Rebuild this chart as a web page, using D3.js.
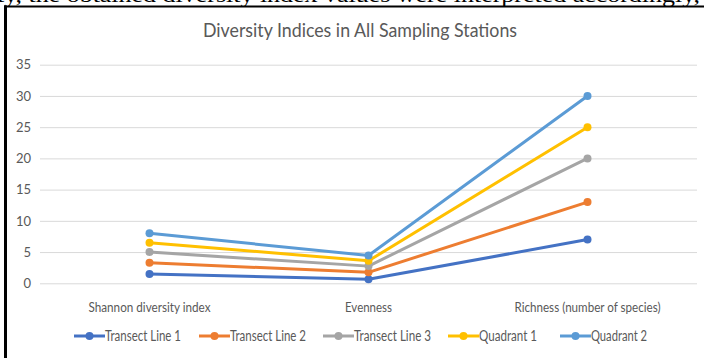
<!DOCTYPE html>
<html>
<head>
<meta charset="utf-8">
<script src="https://cdn.jsdelivr.net/npm/d3@7"></script>
<style>
  html, body { margin: 0; padding: 0; background: #fff; }
  svg { display: block; }
  .lbl { font-family: Lato, "Open Sans", sans-serif; fill: #595959; }
</style>
</head>
<body>
<svg id="chart" width="704" height="358"></svg>
<script>
// Diversity indices per sampling station
const categories = ["Shannon diversity index", "Evenness", "Richness (number of species)"];
const seriesNames = ["Transect Line 1", "Transect Line 2", "Transect Line 3", "Quadrant 1", "Quadrant 2"];
const transectLine1 = [1.5, 0.65, 7];
const transectLine2 = [3.3, 1.75, 13];
const transectLine3 = [5.0, 2.75, 20];
const quadrant1 = [6.5, 3.6, 25];
const quadrant2 = [8.0, 4.45, 30];
const yTicks = [0, 5, 10, 15, 20, 25, 30, 35];
const colors = ["#4472C4", "#ED7D31", "#A5A5A5", "#FFC000", "#5B9BD5"];

const seriesValues = [transectLine1, transectLine2, transectLine3, quadrant1, quadrant2];
const series = seriesNames.map((name, i) => ({
  name, color: colors[i],
  points: categories.map((c, j) => ({ cat: c, v: seriesValues[i][j] }))
}));

const svg = d3.select("#chart");

// Running paragraph text above the figure frame (cut at the top edge)
svg.append("text")
  .attr("x", -3).attr("y", 1.5)
  .attr("textLength", 703).attr("lengthAdjust", "spacingAndGlyphs")
  .style("font-family", "'Liberation Serif', 'DejaVu Serif', serif")
  .style("font-size", "22px").style("fill", "#000")
  .text("ty, the obtained diversity index values were interpreted accordingly,");

// Figure frame
svg.append("line").attr("x1", 4).attr("x2", 704).attr("y1", 6.5).attr("y2", 6.5)
  .attr("stroke", "#000").attr("stroke-width", 2);
svg.append("line").attr("x1", 5.5).attr("x2", 5.5).attr("y1", 5.5).attr("y2", 358)
  .attr("stroke", "#000").attr("stroke-width", 3);

const plot = { left: 40, right: 697, top: 64.7, bottom: 283.3 };

const x = d3.scaleBand().domain(categories).range([plot.left, plot.right]);
const y = d3.scaleLinear().domain([0, 35]).range([plot.bottom, plot.top]);

// Title
svg.append("text").attr("class", "lbl")
  .attr("x", 360).attr("y", 37).attr("text-anchor", "middle")
  .attr("textLength", 314).attr("lengthAdjust", "spacingAndGlyphs")
  .style("font-size", "18.5px")
  .text("Diversity Indices in All Sampling Stations");

// Horizontal gridlines + y tick labels
const yAxis = d3.axisLeft(y).tickValues(yTicks).tickSize(-(plot.right - plot.left)).tickPadding(9);
const gy = svg.append("g").attr("transform", `translate(${plot.left},0)`).call(yAxis);
gy.select(".domain").remove();
gy.selectAll(".tick line").attr("stroke", "#d9d9d9").attr("stroke-width", 1);
gy.selectAll(".tick text").attr("class", "lbl").style("font-size", "13px");

// Category axis labels
const catWidths = [122, 47, 146];
const xAxis = d3.axisBottom(x).tickSize(0).tickPadding(19);
const gx = svg.append("g").attr("transform", `translate(0,${plot.bottom})`).call(xAxis);
gx.select(".domain").remove();
gx.selectAll(".tick text").attr("class", "lbl").style("font-size", "13.5px")
  .attr("textLength", (d, i) => catWidths[i]).attr("lengthAdjust", "spacingAndGlyphs");

const cx = d => x(d.cat) + x.bandwidth() / 2;
const line = d3.line().x(cx).y(d => y(d.v));

const gs = svg.append("g").selectAll("g").data(series).join("g");
gs.append("path")
  .attr("d", d => line(d.points))
  .attr("fill", "none").attr("stroke", d => d.color)
  .attr("stroke-width", 3).attr("stroke-linejoin", "round").attr("stroke-linecap", "round");
gs.selectAll("circle").data(d => d.points.map(p => ({ ...p, color: d.color }))).join("circle")
  .attr("cx", cx).attr("cy", d => y(d.v)).attr("r", 4)
  .attr("fill", d => d.color);

// Legend
const legendX = [74, 199, 323, 448, 560];
const legendTextW = [76, 76, 77, 58, 56];
const legendY = 336;
const lg = svg.append("g").selectAll("g").data(series).join("g")
  .attr("transform", (d, i) => `translate(${legendX[i]},${legendY})`);
lg.append("line").attr("x1", 0).attr("x2", 31).attr("y1", 0).attr("y2", 0)
  .attr("stroke", d => d.color).attr("stroke-width", 3);
lg.append("circle").attr("cx", 15.5).attr("cy", 0).attr("r", 4).attr("fill", d => d.color);
lg.append("text").attr("class", "lbl")
  .attr("x", 31).attr("y", 5)
  .attr("textLength", (d, i) => legendTextW[i]).attr("lengthAdjust", "spacingAndGlyphs")
  .style("font-size", "14.5px")
  .text(d => d.name);
</script>
</body>
</html>
